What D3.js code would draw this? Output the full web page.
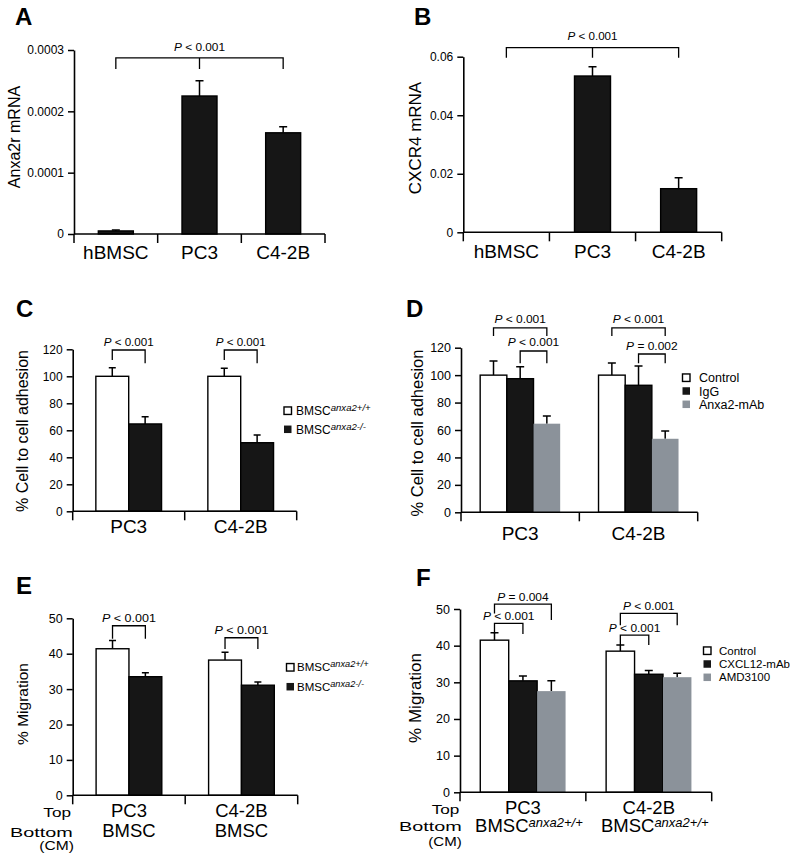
<!DOCTYPE html>
<html><head><meta charset="utf-8">
<script src="https://cdn.jsdelivr.net/npm/d3@7"></script>
<style>
body{margin:0;background:#fff}
svg{display:block}
text{font-family:"Liberation Sans",Arial,Helvetica,sans-serif;fill:#000}
</style>
</head><body>
<svg id="fig" width="800" height="860"></svg>
<script>
// ================= DATA =================
const catsAB = ["hBMSC", "PC3", "C4-2B"];
const anxa2rMean = [0.000005, 0.000225, 0.000165];
const anxa2rErr  = [0.0000015, 0.000025, 0.00001];
const cxcr4Mean  = [0, 0.0534, 0.0149];
const cxcr4Err   = [0, 0.0032, 0.0037];
const ticksA = [0, 0.0001, 0.0002, 0.0003];
const tickLabelsA = ["0", "0.0001", "0.0002", "0.0003"];
const ticksB = [0, 0.02, 0.04, 0.06];
const tickLabelsB = ["0", "0.02", "0.04", "0.06"];

const catsCF = ["PC3", "C4-2B"];
const seriesCE = ["BMSC^anxa2+/+", "BMSC^anxa2-/-"];
const adhesionC    = [[100, 64.7], [100, 50.8]];
const adhesionCErr = [[6.4, 5.3], [6.0, 5.7]];
const seriesD = ["Control", "IgG", "Anxa2-mAb"];
const adhesionD    = [[100, 97.4, 64.6], [100, 92.6, 53.6]];
const adhesionDErr = [[10.3, 8.7, 5.6], [8.8, 14.0, 5.7]];
const ticksCD = [0, 20, 40, 60, 80, 100, 120];
const tickLabelsCD = ["0", "20", "40", "60", "80", "100", "120"];

const migrationE    = [[41.4, 33.5], [38.2, 31.1]];
const migrationEErr = [[2.3, 1.1], [2.2, 0.9]];
const seriesF = ["Control", "CXCL12-mAb", "AMD3100"];
const migrationF    = [[41.5, 30.4, 27.6], [38.5, 32.2, 31.4]];
const migrationFErr = [[2.0, 1.3, 2.8], [1.7, 1.0, 1.1]];
const ticksEF = [0, 10, 20, 30, 40, 50];
const tickLabelsEF = ["0", "10", "20", "30", "40", "50"];
const bottomE = ["BMSC", "BMSC"];
const bottomF = ["BMSC^anxa2+/+", "BMSC^anxa2+/+"];
const rowLabels = ["Top", "Bottom", "(CM)"];

// significance brackets (values in data units; a/b = series index; ca/cb = category index)
const bracketsA = [{ca: 0, a: 0, cb: 2, b: 0, mid: [1, 0], level: 0.000287, dropA: 0.000269, dropB: 0.000269, label: "P < 0.001"}];
const bracketsB = [{ca: 0, a: 0, cb: 2, b: 0, mid: [1, 0], level: 0.0631, dropA: 0.0596, dropB: 0.0596, label: "P < 0.001"}];
const bracketsC = [
  {ca: 0, a: 0, cb: 0, b: 1, level: 119.5, dropA: 112, dropB: 109.6, label: "P < 0.001"},
  {ca: 1, a: 0, cb: 1, b: 1, level: 119.5, dropA: 112, dropB: 109.6, label: "P < 0.001"}];
const bracketsD = [
  {ca: 0, a: 0, cb: 0, b: 2, level: 134.5, dropA: 128.5, dropB: 128.5, label: "P < 0.001"},
  {ca: 0, a: 1, cb: 0, b: 2, level: 117.6, dropA: 108.6, dropB: 108.6, label: "P < 0.001"},
  {ca: 1, a: 0, cb: 1, b: 2, level: 134.5, dropA: 128.5, dropB: 128.5, label: "P < 0.001"},
  {ca: 1, a: 1, cb: 1, b: 2, level: 115.4, dropA: 108.6, dropB: 108.6, label: "P = 0.002"}];
const bracketsE = [
  {ca: 0, a: 0, cb: 0, b: 1, level: 47.9, dropA: 44.2, dropB: 44.2, label: "P < 0.001"},
  {ca: 1, a: 0, cb: 1, b: 1, level: 44.5, dropA: 41.3, dropB: 41.3, label: "P < 0.001"}];
const bracketsF = [
  {ca: 0, a: 0, cb: 0, b: 2, level: 51.35, dropA: 48.8, dropB: 47.0, label: "P = 0.004"},
  {ca: 0, a: 0, cb: 0, b: 1, level: 46.1, dropA: 43.2, dropB: 43.2, label: "P < 0.001"},
  {ca: 1, a: 0, cb: 1, b: 2, level: 48.8, dropA: 45.6, dropB: 45.6, label: "P < 0.001"},
  {ca: 1, a: 0, cb: 1, b: 1, level: 42.9, dropA: 40.2, dropB: 40.2, label: "P < 0.001"}];

// ================= STYLE =================
const BLACK = "#161616";
const GREY = "#8b929a";
const svg = d3.select("#fig");

function richText(t, str, size, supSize, supDy) {
  const [base, sup] = str.split("^");
  t.append("tspan").attr("font-size", size).text(base);
  if (sup) t.append("tspan").attr("font-size", supSize).attr("font-style", "italic")
    .attr("dy", -supDy).text(sup);
}

function panel(cfg) {
  const g = svg.append("g");
  const x = d3.scaleBand().domain(cfg.cats).range([cfg.x0, cfg.x1]);
  const nS = cfg.means[0].length;
  const inner = d3.scaleBand().domain(d3.range(nS)).range([0, cfg.groupW]);
  const xOf = (c, s) => x(cfg.cats[c]) + (x.bandwidth() - cfg.groupW) / 2 + inner(s);
  const xc = (c, s) => xOf(c, s) + inner.bandwidth() / 2;
  const y = d3.scaleLinear().domain([0, d3.max(cfg.ticks)]).range([cfg.y0, cfg.yTop]);

  const flat = [];
  cfg.means.forEach((row, c) => row.forEach((v, s) => flat.push({c, s, v, e: cfg.errs[c][s]})));

  g.selectAll("path.err").data(flat.filter(d => d.e > 0)).join("path")
    .attr("class", "err")
    .attr("d", d => {
      const cx = xc(d.c, d.s), y1 = y(d.v), y2 = y(d.v + d.e);
      return `M${cx},${y1}V${y2}M${cx - cfg.capW / 2},${y2}H${cx + cfg.capW / 2}`;
    })
    .attr("stroke", "#000").attr("stroke-width", 1.5).attr("fill", "none");

  g.selectAll("rect.bar").data(flat).join("rect")
    .attr("class", "bar")
    .attr("x", d => xOf(d.c, d.s)).attr("width", inner.bandwidth())
    .attr("y", d => y(d.v)).attr("height", d => y(0) - y(d.v))
    .attr("fill", d => cfg.fills[d.s])
    .attr("stroke", d => cfg.fills[d.s] === GREY ? "none" : "#000")
    .attr("stroke-width", 1.4);

  const ax = d3.axisLeft(y).tickValues(cfg.ticks).tickFormat((d, i) => cfg.tickLabels[i])
    .tickSize(6).tickSizeOuter(0).tickPadding(4);
  const axg = g.append("g").attr("transform", `translate(${cfg.x0},0)`).call(ax)
    .attr("font-family", null).attr("font-size", cfg.tickFont);
  axg.select(".domain").attr("stroke-width", 1.6).attr("stroke", "#000");
  axg.selectAll(".tick line").attr("stroke-width", 1.5).attr("stroke", "#000");
  axg.selectAll(".tick text").attr("fill", "#000");

  const bounds = cfg.cats.map(c => x(c)).concat([cfg.x1]);
  g.append("line").attr("x1", cfg.x0).attr("x2", cfg.x1).attr("y1", cfg.y0).attr("y2", cfg.y0)
    .attr("stroke", "#000").attr("stroke-width", 1.6);
  g.selectAll("line.xt").data(bounds).join("line").attr("class", "xt")
    .attr("x1", d => d).attr("x2", d => d).attr("y1", cfg.y0).attr("y2", cfg.y0 + 9)
    .attr("stroke", "#000").attr("stroke-width", 1.5);

  g.selectAll("text.cat").data(cfg.cats).join("text").attr("class", "cat")
    .attr("x", c => x(c) + x.bandwidth() / 2).attr("y", cfg.catY)
    .attr("text-anchor", "middle").attr("font-size", cfg.catFont).text(d => d);

  if (cfg.bottom) {
    cfg.bottom.forEach((lab, i) => {
      const t = g.append("text").attr("x", x(cfg.cats[i]) + x.bandwidth() / 2 + (cfg.bottomDx || 0))
        .attr("y", cfg.bottomY).attr("text-anchor", "middle");
      richText(t, lab, cfg.catFont, 13, 5);
    });
    cfg.rowLab.forEach((r, i) => {
      g.append("text").attr("x", r.x).attr("y", r.y).attr("font-size", 13.5)
        .attr("textLength", r.w).attr("lengthAdjust", "spacingAndGlyphs").text(rowLabels[i]);
    });
  }

  cfg.brackets.forEach(b => {
    const xa = xc(b.ca, b.a), xb = xc(b.cb, b.b), yl = y(b.level);
    let d = `M${xa},${y(b.dropA)}V${yl}H${xb}V${y(b.dropB)}`;
    if (b.mid) d += `M${xc(b.mid[0], b.mid[1])},${yl}V${y(b.dropA)}`;
    g.append("path").attr("d", d).attr("fill", "none").attr("stroke", "#000").attr("stroke-width", 1.3);
    const t = g.append("text").attr("x", (xa + xb) / 2).attr("y", yl - cfg.pGap)
      .attr("text-anchor", "middle").attr("font-size", 10)
      .attr("textLength", cfg.pW).attr("lengthAdjust", "spacingAndGlyphs");
    t.append("tspan").attr("font-style", "italic").text(b.label[0]);
    t.append("tspan").text(b.label.slice(1));
  });

  if (cfg.legend) {
    const L = cfg.legend, sz = 7.5;
    cfg.series.forEach((name, i) => {
      const cy = L.y + i * L.dy;
      g.append("rect").attr("x", L.x).attr("y", cy - sz / 2).attr("width", sz).attr("height", sz)
        .attr("fill", cfg.fills[i]).attr("stroke", cfg.fills[i] === "#fff" ? "#000" : "none")
        .attr("stroke-width", 1.4);
      const t = g.append("text").attr("x", L.tx).attr("y", cy + L.font * 0.36);
      richText(t, name, L.font, L.font * 0.8, 4);
    });
  }

  g.append("text").attr("transform", `translate(${cfg.ylab.x},${cfg.ylab.y}) rotate(-90)`)
    .attr("text-anchor", "middle").attr("font-size", cfg.ylab.font).text(cfg.ylab.text);

  g.append("text").attr("x", cfg.letter.x).attr("y", cfg.letter.y)
    .attr("font-size", 24).attr("font-weight", "bold").text(cfg.letter.t);
}

const one = arr => arr.map(v => [v]);

panel({cats: catsAB, means: one(anxa2rMean), errs: one(anxa2rErr), fills: [BLACK],
  x0: 74, x1: 325, y0: 234, yTop: 50, groupW: 35, capW: 8,
  ticks: ticksA, tickLabels: tickLabelsA, tickFont: 12,
  catY: 259, catFont: 19, brackets: bracketsA, pGap: 7, pW: 51,
  ylab: {x: 20, y: 137, font: 16, text: "Anxa2r mRNA"}, letter: {x: 15, y: 25, t: "A"}});

panel({cats: catsAB, means: one(cxcr4Mean), errs: one(cxcr4Err), fills: [BLACK],
  x0: 463.3, x1: 721.7, y0: 232.3, yTop: 56.7, groupW: 36, capW: 8,
  ticks: ticksB, tickLabels: tickLabelsB, tickFont: 12,
  catY: 258.3, catFont: 19, brackets: bracketsB, pGap: 7.5, pW: 50,
  ylab: {x: 420.5, y: 138, font: 17, text: "CXCR4 mRNA"}, letter: {x: 414, y: 25, t: "B"}});

panel({cats: catsCF, series: seriesCE, means: adhesionC, errs: adhesionCErr, fills: ["#fff", BLACK],
  x0: 72.7, x1: 296.7, y0: 511.3, yTop: 349.3, groupW: 65.7, capW: 7,
  ticks: ticksCD, tickLabels: tickLabelsCD, tickFont: 12,
  catY: 533.3, catFont: 19, brackets: bracketsC, pGap: 4, pW: 50,
  legend: {x: 284, tx: 296, y: 410.7, dy: 18.6, font: 12},
  ylab: {x: 28, y: 431, font: 16, text: "% Cell to cell adhesion"}, letter: {x: 16, y: 317, t: "C"}});

panel({cats: catsCF, series: seriesD, means: adhesionD, errs: adhesionDErr, fills: ["#fff", BLACK, GREY],
  x0: 461, x1: 697.7, y0: 512.3, yTop: 347.7, groupW: 80, capW: 8,
  ticks: ticksCD, tickLabels: tickLabelsCD, tickFont: 12.5,
  catY: 540, catFont: 19, brackets: bracketsD, pGap: 4.5, pW: 51.5,
  legend: {x: 682.5, tx: 699, y: 377.7, dy: 13.3, font: 12.5},
  ylab: {x: 423, y: 433, font: 16.5, text: "% Cell to cell adhesion"}, letter: {x: 406, y: 317, t: "D"}});

panel({cats: catsCF, series: seriesCE, means: migrationE, errs: migrationEErr, fills: ["#fff", BLACK],
  x0: 72.7, x1: 297.7, y0: 795.3, yTop: 618.3, groupW: 65.7, capW: 7,
  ticks: ticksEF, tickLabels: tickLabelsEF, tickFont: 12.5,
  catY: 816.7, catFont: 18.5, bottom: bottomE, bottomY: 837.3,
  rowLab: [{x: 43.3, y: 816.7, w: 27.7}, {x: 10, y: 837, w: 62.7}, {x: 39.3, y: 850, w: 34.7}],
  brackets: bracketsE, pGap: 3.5, pW: 54,
  legend: {x: 286.5, tx: 297, y: 667.3, dy: 19.4, font: 11.5},
  ylab: {x: 27.5, y: 704, font: 15.5, text: "% Migration"}, letter: {x: 16, y: 594, t: "E"}});

panel({cats: catsCF, series: seriesF, means: migrationF, errs: migrationFErr, fills: ["#fff", BLACK, GREY],
  x0: 460, x1: 711.7, y0: 792.3, yTop: 609, groupW: 85.3, capW: 8,
  ticks: ticksEF, tickLabels: tickLabelsEF, tickFont: 12.5,
  catY: 814, catFont: 18.5, bottom: bottomF, bottomY: 831.5, bottomDx: 6,
  rowLab: [{x: 431.7, y: 814, w: 27.7}, {x: 399, y: 831, w: 62.7}, {x: 428.3, y: 845.5, w: 33.4}],
  brackets: bracketsF, pGap: 3.5, pW: 51.5,
  legend: {x: 703.5, tx: 719, y: 650.7, dy: 13.3, font: 11.5},
  ylab: {x: 421, y: 698, font: 17, text: "% Migration"}, letter: {x: 416, y: 586, t: "F"}});
</script>
</body></html>
